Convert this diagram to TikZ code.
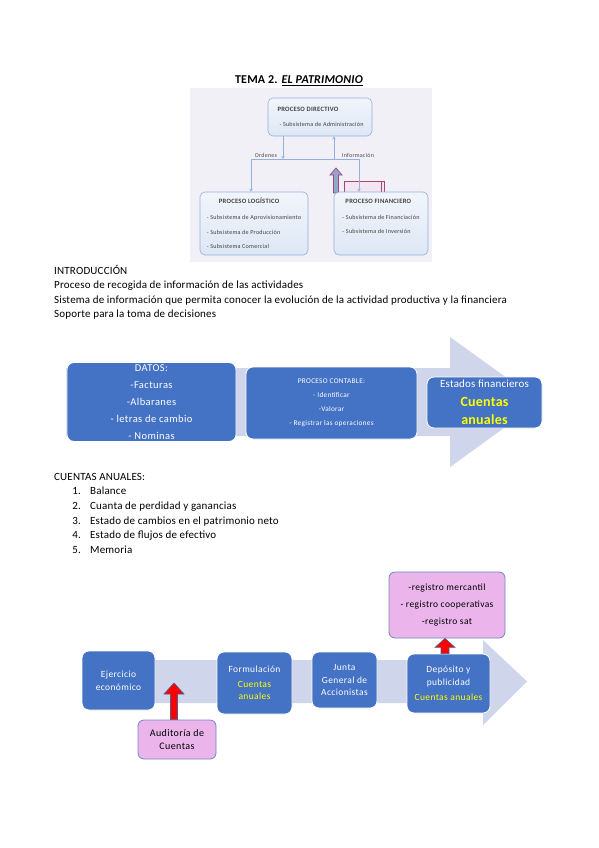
\documentclass[tikz,border=0pt]{standalone}
\usepackage{fontspec}
\setmainfont{Carlito}[LetterSpace=1.7]
\newfontfamily\boxfont{Carlito}[LetterSpace=4]
\usetikzlibrary{arrows.meta,positioning,calc}

\definecolor{boxblue}{HTML}{4472C4}
\definecolor{flowgray}{HTML}{CFD5EA}
\definecolor{pinkfill}{HTML}{EBB5EB}
\definecolor{pinkline}{HTML}{6D87C2}
\definecolor{paleblue}{HTML}{DDE7F5}
\definecolor{lineblue}{HTML}{95B0DA}
\definecolor{panelbg}{HTML}{F1F0F6}
\definecolor{redline}{HTML}{4A5F8E}
\definecolor{cuentasyellow}{HTML}{FFFF00}
\definecolor{markline}{HTML}{A8457A}
\definecolor{markfill}{HTML}{F4E6F1}
\definecolor{markblue}{HTML}{8FA8CF}

\tikzset{
  bluebox/.style={draw=white, line width=0.8pt, fill=boxblue, rounded corners=7pt,
    text=white, align=center, inner sep=2pt},
  pinkbox/.style={draw=pinkline, line width=0.8pt, fill=pinkfill, rounded corners=6pt,
    align=center, inner sep=2pt},
  orgbox/.style={draw=lineblue, line width=0.6pt, top color=white!60!paleblue,
    bottom color=paleblue, rounded corners=5pt, align=left, text=black!75,
    font=\boxfont\fontsize{6.1}{14.5}\selectfont},
  orgline/.style={draw=lineblue, line width=0.6pt},
  orgarrow/.style={orgline, -{Stealth[length=3pt,width=3.5pt,open]}},
  orglabel/.style={inner sep=0pt, text=black!70, font=\boxfont\fontsize{6}{7}\selectfont},
  redarrow/.style={draw=redline, line width=0.6pt, fill=red, line join=miter},
  flow/.style={fill=flowgray},
  body/.style={anchor=base west, inner sep=0pt, font=\fontsize{11}{14}\selectfont},
}

\begin{document}
\begin{tikzpicture}[x=1pt,y=-1pt]
  \useasboundingbox[fill=white] (0,0) rectangle (599,848);

  % Title
  \node[anchor=base, inner sep=0pt, font=\fontsize{12}{14}\selectfont\bfseries] (title)
    at (299,83.5) {TEMA 2. \underline{\itshape EL PATRIMONIO}};

  % Organigrama (picture)
  \fill[panelbg] (190,88) rectangle (432,262);
  \draw[markline, line width=0.8pt, fill=markfill] (344,181) rectangle (384,193);
  \draw[markline, line width=0.8pt] (381,181) -- (381,193);
  \draw[markline, line width=0.7pt, fill=markblue]
    (333.5,193) -- (333.5,175) -- (330,175) -- (336,168) -- (342,175) -- (338.5,175) -- (338.5,193) -- cycle;

  \node[orgbox, minimum width=104pt, minimum height=38pt] (directivo) at (320,117)
    {\hspace*{1pt}{\boxfont\bfseries\fontsize{6.6}{14.5}\selectfont PROCESO DIRECTIVO}\\\hspace*{3pt}- Subsistema de Administración};
  \node[orgbox, minimum width=108pt, minimum height=63pt] (logistico) at (254,223.5)
    {\hspace*{12pt}{\boxfont\bfseries\fontsize{6.6}{14.5}\selectfont PROCESO LOGÍSTICO}\\[1.5pt]- Subsistema de Aprovisionamiento\\- Subsistema de Producción\\- Subsistema Comercial};
  \node[orgbox, minimum width=94pt, minimum height=63pt] (financiero) at (381,223.5)
    {\hspace*{3pt}{\boxfont\bfseries\fontsize{6.6}{14.5}\selectfont PROCESO FINANCIERO}\\[1.5pt]- Subsistema de Financiación\\- Subsistema de Inversión\\~};

  \coordinate (ordenesEnd) at (283,159);
  \coordinate (busL) at (251,159);
  \coordinate (busR) at (359,159);
  \coordinate (infoStart) at (334,159);
  \draw[orgline] (busL) -- (busR);
  \draw[orgarrow] (directivo.south -| ordenesEnd) -- (ordenesEnd);
  \draw[orgarrow] (infoStart) -- (directivo.south -| infoStart);
  \draw[orgarrow] (busL) -- (logistico.north -| busL);
  \draw[orgarrow] (busR) -- (financiero.north -| busR);
  \node[orglabel] (ordenes) at (266,155) {Ordenes};
  \node[orglabel] (informacion) at (358,155) {Información};

  % Introduccion
  \node[body] (intro) at (54,274) {INTRODUCCIÓN};
  \node[body] (intro1) at (54,288.5) {Proceso de recogida de información de las actividades};
  \node[body] (intro2) at (54,303) {Sistema de información que permita conocer la evolución de la actividad productiva y la financiera};
  \node[body] (intro3) at (54,317.5) {Soporte para la toma de decisiones};

  % Flujo contable
  \fill[flow] (66,368) -- (450,368) -- (450,337) -- (540,402) -- (450,467) -- (450,436) -- (66,436) -- cycle;
  \node[bluebox, minimum width=169pt, minimum height=76pt, font=\boxfont\fontsize{10.5}{17}\selectfont] (datos)
    at (151.5,402) {DATOS:\\-Facturas\\-Albaranes\\- letras de cambio\\- Nominas};
  \node[bluebox, minimum width=171pt, minimum height=72pt, font=\boxfont\fontsize{7.3}{14}\selectfont] (contable)
    at (331.5,403) {PROCESO CONTABLE:\\- Identificar\\-Valorar\\- Registrar las operaciones};
  \node[bluebox, minimum width=115pt, minimum height=51pt, font=\fontsize{11}{19}\selectfont] (estados)
    at (484.5,402.5) {Estados financieros\\{\fontsize{14}{17}\selectfont\bfseries\color{cuentasyellow}Cuentas}\\[-1pt]{\fontsize{14}{17}\selectfont\bfseries\color{cuentasyellow}anuales}};

  % Cuentas anuales
  \node[body] (cuentas) at (54,480) {CUENTAS ANUALES:};
  \foreach \n/\txt in {1/Balance, 2/Cuanta de perdidad y ganancias, 3/Estado de cambios en el patrimonio neto,
                       4/Estado de flujos de efectivo, 5/Memoria}{
    \node[body, anchor=base east] (num\n) at (81,480+14.7*\n) {\n.};
    \node[body] (item\n) at (90,480+14.7*\n) {\txt};
  }

  % Ciclo de las cuentas anuales
  \fill[flow] (100,660) -- (483,660) -- (483,640) -- (527,681.5) -- (483,725) -- (483,703) -- (100,703) -- cycle;
  \node[bluebox, minimum width=73pt, minimum height=59pt, font=\boxfont\fontsize{9.5}{13}\selectfont] (ejercicio)
    at (118.5,680.5) {Ejercicio\\económico};
  \node[bluebox, minimum width=75pt, minimum height=62pt, font=\boxfont\fontsize{9.5}{13.5}\selectfont] (formulacion)
    at (254.5,683) {Formulación\\[1.5pt]{\color{cuentasyellow}Cuentas}\\[-1.5pt]{\color{cuentasyellow}anuales}};
  \node[bluebox, minimum width=65pt, minimum height=56pt, font=\boxfont\fontsize{9.5}{12.5}\selectfont] (junta)
    at (344.5,680) {Junta\\General de\\Accionistas};
  \node[bluebox, minimum width=83pt, minimum height=59pt, font=\boxfont\fontsize{9.5}{13}\selectfont] (deposito)
    at (448.5,683.5) {Depósito y\\publicidad\\[1.5pt]{\color{cuentasyellow}Cuentas anuales}};
  \node[pinkbox, minimum width=116pt, minimum height=66pt, font=\boxfont\fontsize{9.5}{17}\selectfont] (registro)
    at (447,605) {-registro mercantil\\- registro cooperativas\\-registro sat};
  \node[pinkbox, minimum width=78pt, minimum height=39pt, font=\boxfont\fontsize{10}{13}\selectfont] (auditoria)
    at (177,739.5) {Auditoría de\\Cuentas};

  % Flechas rojas
  \coordinate (auditTip) at (174,683);
  \coordinate (registroBase) at (445,653);
  \draw[redarrow] ($(auditoria.north -| auditTip)+(-3.5,0)$) -- ($(auditTip)+(-3.5,11)$) -- ($(auditTip)+(-10,11)$)
    -- (auditTip) -- ($(auditTip)+(10,11)$) -- ($(auditTip)+(3.5,11)$) -- ($(auditoria.north -| auditTip)+(3.5,0)$) -- cycle;
  \draw[redarrow] ($(deposito.north -| registroBase)+(-4,0)$) -- ($(registro.south -| registroBase)+(-4,9)$)
    -- ($(registro.south -| registroBase)+(-10,9)$) -- (registro.south -| registroBase)
    -- ($(registro.south -| registroBase)+(10,9)$) -- ($(registro.south -| registroBase)+(4,9)$)
    -- ($(deposito.north -| registroBase)+(4,0)$) -- cycle;
\end{tikzpicture}
\end{document}
